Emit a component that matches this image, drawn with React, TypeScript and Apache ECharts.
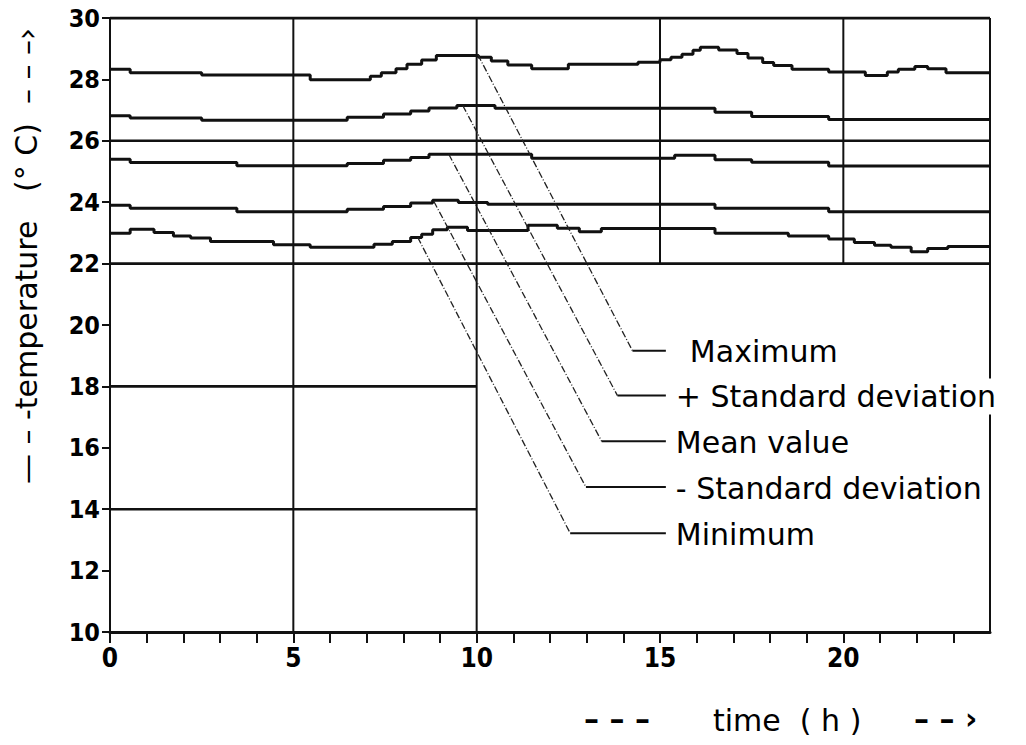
import React, { useEffect, useRef } from "react";
import * as echarts from "echarts";

// ---------- data ----------
const hourTicks = [0, 1, 2, 3, 4, 5, 6, 7, 8, 9, 10, 11, 12, 13, 14, 15, 16, 17, 18, 19, 20, 21, 22, 23];
const hourLabels = [0, 5, 10, 15, 20];

const maximum = [
  [0, 28.33], [0.55, 28.22], [2.5, 28.14], [5.46, 27.99], [7.1, 28.1], [7.4, 28.22], [7.8, 28.35],
  [8.1, 28.49], [8.5, 28.63], [8.9, 28.78], [10.05, 28.72], [10.4, 28.6], [10.85, 28.47], [11.5, 28.35],
  [12.5, 28.49], [14.4, 28.56], [15.0, 28.64], [15.3, 28.72], [15.6, 28.82], [15.9, 28.95], [16.1, 29.05],
  [16.6, 28.96], [17.1, 28.84], [17.4, 28.7], [17.8, 28.55], [18.1, 28.45], [18.6, 28.33], [19.6, 28.24],
  [20.6, 28.13], [21.2, 28.24], [21.5, 28.33], [21.95, 28.42], [22.3, 28.35], [22.8, 28.22], [24, 28.22],
];
const plusStdDev = [
  [0, 26.82], [0.55, 26.74], [2.5, 26.67], [6.47, 26.77], [7.46, 26.87], [8.2, 26.97], [8.7, 27.07],
  [9.46, 27.15], [10.5, 27.06], [16.5, 26.93], [17.5, 26.79], [19.6, 26.69], [24, 26.69],
];
const meanValue = [
  [0, 25.4], [0.55, 25.29], [3.46, 25.19], [6.47, 25.26], [7.46, 25.37], [8.2, 25.46], [8.7, 25.56],
  [11.5, 25.43], [15.4, 25.53], [16.5, 25.38], [17.5, 25.3], [19.6, 25.18], [24, 25.18],
];
const minusStdDev = [
  [0, 23.9], [0.55, 23.8], [3.46, 23.69], [6.47, 23.77], [7.46, 23.86], [8.2, 23.97], [8.8, 24.06],
  [9.5, 23.99], [10.3, 23.93], [16.5, 23.8], [19.6, 23.69], [24, 23.69],
];
const minimum = [
  [0, 22.99], [0.55, 23.12], [1.2, 23.01], [1.73, 22.9], [2.2, 22.83], [2.74, 22.72], [4.46, 22.61],
  [5.46, 22.53], [7.2, 22.63], [7.7, 22.72], [8.2, 22.85], [8.5, 22.96], [8.8, 23.1], [9.2, 23.18],
  [9.75, 23.08], [11.4, 23.25], [12.2, 23.15], [12.8, 23.04], [13.4, 23.14], [16.5, 22.99], [18.5, 22.9],
  [19.6, 22.8], [20.3, 22.69], [20.85, 22.6], [21.3, 22.53], [21.85, 22.39], [22.3, 22.49], [22.85, 22.56],
  [24, 22.56],
];

const curveNames = ["Maximum", "+ Standard deviation", "Mean value", "- Standard deviation", "Minimum"];
const curves = [maximum, plusStdDev, meanValue, minusStdDev, minimum];

// leader lines: start on curve -> corner, then horizontal to labelLineEnd
const leaderStarts = [[10.03, 28.81], [9.62, 27.15], [9.24, 25.56], [8.83, 24.03], [8.39, 22.86]];
const leaderCorners = [[14.25, 19.16], [13.84, 17.7], [13.41, 16.21], [12.98, 14.72], [12.55, 13.22]];
const labelLineEnd = 15.16;

// drawing frame / setpoint lines (data coordinates)
const fullVerticals = [5, 10, 24];
const upperVerticals = [15, 20];
const fullHorizontals = [30, 26, 22];
const halfHorizontals = [18, 14];

export default function App() {
  const ref = useRef<HTMLDivElement>(null);

  useEffect(() => {
    if (!ref.current) return;
    const chart = echarts.init(ref.current, null, { renderer: "svg" });
    const ink = "#111";
    const seg = (a: number[], b: number[], w: number) => ({
      type: "line",
      data: [a, b],
      symbol: "none",
      silent: true,
      lineStyle: { color: ink, width: w },
      z: 2,
    });
    const series: any[] = [];
    fullVerticals.forEach((x) => series.push(seg([x, 10], [x, 30], 2)));
    upperVerticals.forEach((x) => series.push(seg([x, 22], [x, 30], 2)));
    fullHorizontals.forEach((y) => series.push(seg([0, y], [24, y], y === 30 ? 3 : 2.6)));
    halfHorizontals.forEach((y) => series.push(seg([0, y], [10, y], 2.6)));
    curves.forEach((c, i) =>
      series.push({
        type: "line",
        name: curveNames[i],
        data: c,
        step: "end",
        symbol: "none",
        silent: true,
        lineStyle: { color: ink, width: 3 },
        z: 3,
      })
    );
    leaderStarts.forEach((s, i) => {
      series.push({
        type: "line",
        data: [s, leaderCorners[i]],
        symbol: "none",
        silent: true,
        lineStyle: { color: "#222", width: 1.3, type: [7, 2, 1, 2] },
        z: 4,
      });
      series.push(seg(leaderCorners[i], [labelLineEnd, leaderCorners[i][1]], 2));
    });

    const tickFont = "'DejaVu Sans Condensed', 'Liberation Sans Narrow', Roboto, sans-serif";
    chart.setOption({
      animation: false,
      backgroundColor: "#fff",
      grid: { left: 110, right: 36, top: 18, bottom: 113 },
      xAxis: {
        type: "value",
        min: 0,
        max: 24,
        interval: 1,
        axisLine: { show: true, lineStyle: { color: ink, width: 3 } },
        axisTick: { show: true, length: 11, lineStyle: { color: ink, width: 2 }, customValues: hourTicks },
        axisLabel: {
          customValues: hourLabels,
          color: "#000",
          fontFamily: tickFont,
          fontWeight: "bold",
          fontSize: 26,
          margin: 13,
        },
        splitLine: { show: false },
      },
      yAxis: {
        type: "value",
        min: 10,
        max: 30,
        interval: 2,
        axisLine: { show: true, lineStyle: { color: ink, width: 2 } },
        axisTick: { show: true, length: 8, lineStyle: { color: ink, width: 2 } },
        axisLabel: {
          color: "#000",
          fontFamily: tickFont,
          fontWeight: "bold",
          fontSize: 25,
          margin: 10,
        },
        splitLine: { show: false },
      },
      series,
    });

    const font = "'DejaVu Sans', sans-serif";
    const graphics: any[] = [];
    leaderCorners.forEach((c, i) => {
      const p = chart.convertToPixel({ gridIndex: 0 }, [labelLineEnd, c[1]]) as number[];
      graphics.push({
        type: "text",
        x: p[0] + (i === 0 ? 22 : 8),
        y: p[1] + 1,
        z: 100,
        style: {
          text: curveNames[i],
          fill: "#000",
          font: `30px ${font}`,
          verticalAlign: "middle",
          align: "left",
          backgroundColor: "#fff",
          padding: [3, 2],
        },
      });
    });
    graphics.push({
      type: "text",
      x: 26,
      y: 256,
      rotation: Math.PI / 2,
      z: 100,
      style: {
        text: "— – -temperature   (° C)  – – –›",
        fill: "#000",
        font: `30px ${font}`,
        align: "center",
        verticalAlign: "middle",
      },
    });
    graphics.push({
      type: "text",
      x: 584,
      y: 718,
      z: 100,
      style: { text: "– – –", fill: "#000", font: `bold 30px ${font}`, verticalAlign: "middle" },
    });
    graphics.push({
      type: "text",
      x: 713,
      y: 720,
      z: 100,
      style: { text: "time  ( h )", fill: "#000", font: `30px ${font}`, verticalAlign: "middle" },
    });
    graphics.push({
      type: "text",
      x: 914,
      y: 718,
      z: 100,
      style: { text: "– – ›", fill: "#000", font: `bold 30px ${font}`, verticalAlign: "middle" },
    });
    chart.setOption({ graphic: graphics });

    return () => chart.dispose();
  }, []);

  return (
    <div
      ref={ref}
      style={{ position: "fixed", left: 0, top: 0, width: 1026, height: 745, background: "#fff" }}
    />
  );
}
